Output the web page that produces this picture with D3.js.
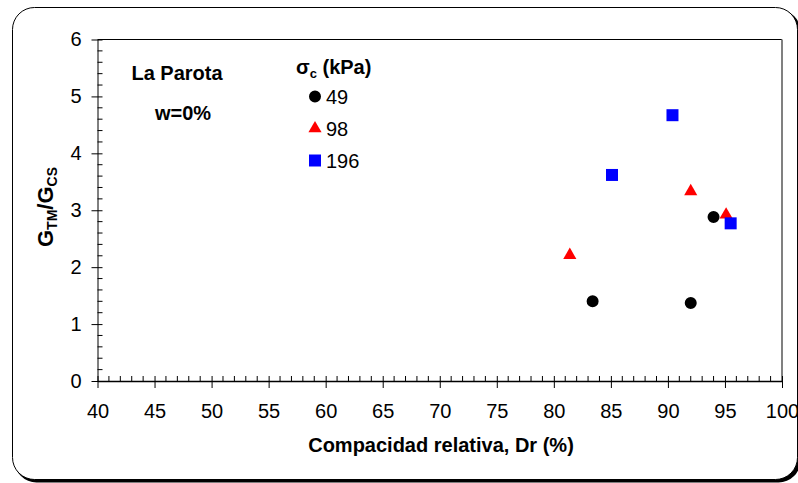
<!DOCTYPE html>
<html>
<head>
<meta charset="utf-8">
<script src="https://cdn.jsdelivr.net/npm/d3@7"></script>
<style>
  body { margin: 0; background: #fff; }
  svg text { font-family: "Liberation Sans", Arial, sans-serif; }
</style>
</head>
<body>
<div id="chart"></div>
<script>
// Data
const series = ['49', '98', '196'];
const dr49 = [83.4, 92.0, 94.0];
const g49 = [1.40, 1.37, 2.88];
const dr98 = [81.4, 92.0, 95.1];
const g98 = [2.21, 3.33, 2.92];
const dr196 = [85.1, 90.4, 95.5];
const g196 = [3.62, 4.67, 2.77];
const xTicks = [40, 45, 50, 55, 60, 65, 70, 75, 80, 85, 90, 95, 100];
const yTicks = [0, 1, 2, 3, 4, 5, 6];

const width = 798, height = 483;

const svg = d3.select('#chart').append('svg')
    .attr('width', width)
    .attr('height', height);

// outer rounded frame with shadow
svg.append('rect')
    .attr('x', 14.5).attr('y', 9.5)
    .attr('width', 786).attr('height', 473)
    .attr('rx', 22)
    .attr('fill', '#000');
svg.append('rect')
    .attr('x', 12.5).attr('y', 7.5)
    .attr('width', 785).attr('height', 472)
    .attr('rx', 22)
    .attr('fill', '#fff')
    .attr('stroke', '#000')
    .attr('stroke-width', 1);

const x = d3.scaleLinear().domain([40, 100]).range([97.5, 782]);
const y = d3.scaleLinear().domain([0, 6]).range([381, 39.5]);

// plot box: top black, right gray
svg.append('line')
    .attr('x1', x(40)).attr('x2', x(100))
    .attr('y1', y(6)).attr('y2', y(6))
    .attr('stroke', '#000');
svg.append('line')
    .attr('x1', x(100)).attr('x2', x(100))
    .attr('y1', y(6)).attr('y2', y(0))
    .attr('stroke', '#808080').attr('stroke-width', 2);

// minor ticks (inside)
const xMinor = d3.range(41, 100, 1).filter(v => v % 5 !== 0);
svg.append('g').selectAll('line').data(xMinor).join('line')
    .attr('x1', d => x(d)).attr('x2', d => x(d))
    .attr('y1', y(0)).attr('y2', y(0) - 5)
    .attr('stroke', '#000');
const yMinor = d3.range(0, 30).filter(v => v % 5 !== 0).map(v => v / 5);
svg.append('g').selectAll('line').data(yMinor).join('line')
    .attr('x1', x(40)).attr('x2', x(40) + 5)
    .attr('y1', d => y(d)).attr('y2', d => y(d))
    .attr('stroke', '#000');

// axes
const xAxis = svg.append('g')
    .attr('transform', `translate(0,${y(0)})`)
    .call(d3.axisBottom(x).tickValues(xTicks).tickSizeInner(7).tickSizeOuter(0));
xAxis.select('.domain').attr('stroke-width', 1.6);
xAxis.selectAll('.tick line').attr('y1', -5);
xAxis.selectAll('text')
    .attr('y', 37).attr('dy', null)
    .attr('font-size', 20).attr('font-family', null);

const yAxis = svg.append('g')
    .attr('transform', `translate(${x(40)},0)`)
    .call(d3.axisLeft(y).tickValues(yTicks).tickFormat(d3.format('d')).tickSizeInner(6).tickSizeOuter(0).tickPadding(10));
yAxis.selectAll('.tick line').attr('x1', 5);
yAxis.selectAll('text')
    .attr('font-size', 20).attr('font-family', null);

// axis titles
svg.append('text')
    .attr('x', 441).attr('y', 452)
    .attr('text-anchor', 'middle')
    .attr('font-size', 20).attr('font-weight', 'bold')
    .text('Compacidad relativa, Dr (%)');

const yl = svg.append('text')
    .attr('transform', 'translate(53,207) rotate(-90)')
    .attr('text-anchor', 'middle')
    .attr('font-size', 22).attr('font-weight', 'bold');
yl.append('tspan').text('G');
yl.append('tspan').attr('font-size', 14).attr('dy', 4).text('TM');
yl.append('tspan').attr('dy', -4).text('/G');
yl.append('tspan').attr('font-size', 14).attr('dy', 4).text('CS');

// annotations
svg.append('text').attr('x', 177).attr('y', 80)
    .attr('text-anchor', 'middle').attr('font-size', 20).attr('font-weight', 'bold')
    .text('La Parota');
svg.append('text').attr('x', 183).attr('y', 120)
    .attr('text-anchor', 'middle').attr('font-size', 20).attr('font-weight', 'bold')
    .text('w=0%');

// legend
const lt = svg.append('text').attr('x', 296).attr('y', 74)
    .attr('font-size', 20).attr('font-weight', 'bold');
lt.append('tspan').text('σ');
lt.append('tspan').attr('font-size', 13).attr('dy', 4).text('c');
lt.append('tspan').attr('dy', -4).text(' (kPa)');

const sym = {
    '49': { type: d3.symbolCircle, size: 113, color: '#000' },
    '98': { type: d3.symbolTriangle, size: 75, color: '#ff0000' },
    '196': { type: d3.symbolSquare, size: 144, color: '#0000ff' }
};
const legendY = [96.5, 128.5, 160.5];
series.forEach((s, i) => {
    svg.append('path')
        .attr('d', d3.symbol().type(sym[s].type).size(sym[s].size)())
        .attr('transform', `translate(315,${legendY[i]})`)
        .attr('fill', sym[s].color);
    svg.append('text').attr('x', 326).attr('y', legendY[i] + 7)
        .attr('font-size', 20).text(s);
});

// points
const points = [
    { s: '49', xs: dr49, ys: g49 },
    { s: '98', xs: dr98, ys: g98 },
    { s: '196', xs: dr196, ys: g196 }
];
points.forEach(p => {
    svg.append('g').selectAll('path').data(p.xs.map((v, i) => [v, p.ys[i]])).join('path')
        .attr('d', d3.symbol().type(sym[p.s].type).size(sym[p.s].size)())
        .attr('transform', d => `translate(${x(d[0])},${y(d[1])})`)
        .attr('fill', sym[p.s].color);
});
</script>
</body>
</html>
